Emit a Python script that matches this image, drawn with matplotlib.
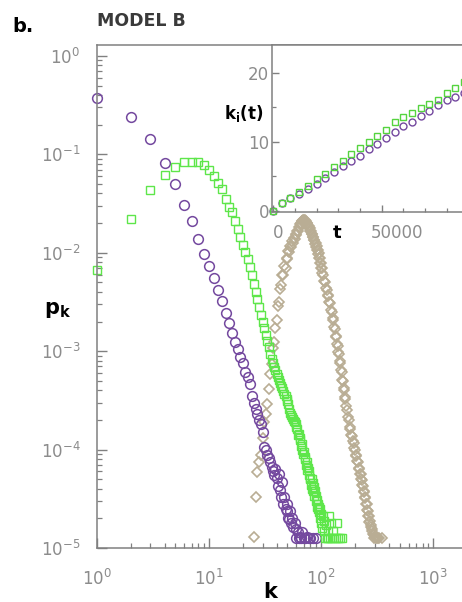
import matplotlib
matplotlib.use("Agg")
import matplotlib.pyplot as plt
from matplotlib.ticker import FixedLocator, LogLocator, NullFormatter

plt.rcParams.update({"font.family": "DejaVu Sans", "mathtext.default": "regular"})

# degree distribution p_k, three snapshots of model B
purple_k = [1, 2, 3, 4, 5, 6, 7, 8, 9, 10, 11, 12, 13, 14, 15, 16, 17, 18, 19, 20,
            21, 22, 23, 24, 25, 26, 27, 28, 29, 30, 31, 32, 33, 34, 35, 36, 37, 38, 39, 40,
            41, 42, 43, 44, 45, 46, 47, 48, 49, 50, 51, 52, 53, 54, 55, 56, 58, 59, 60, 62,
            63, 65, 66, 68, 70, 72, 75, 78, 80, 85, 90]
purple_p = [0.375, 0.24, 0.144, 0.082, 0.050, 0.0307, 0.0211, 0.0139, 0.0096, 0.0073,
            0.0055, 0.0042, 0.0032, 0.00246, 0.00195, 0.00154, 0.00125, 0.00104, 8.8e-4, 7.6e-4,
            6.2e-4, 5.4e-4, 4.6e-4, 3.5e-4, 3.0e-4, 2.6e-4, 2.3e-4, 2.0e-4, 1.8e-4, 1.5e-4,
            1.05e-4, 1.0e-4, 8.9e-5, 8.3e-5, 7.4e-5, 6.6e-5, 6.0e-5, 5.5e-5, 6.3e-5, 5.2e-5,
            4.3e-5, 5.6e-5, 3.9e-5, 3.3e-5, 4.7e-5, 2.8e-5, 3.3e-5, 2.5e-5, 2.35e-5, 2.8e-5,
            2.0e-5, 1.95e-5, 2.35e-5, 1.8e-5, 2.0e-5, 1.65e-5, 1.8e-5, 1.55e-5, 1.25e-5, 1.44e-5,
            1.25e-5, 1.3e-5, 1.25e-5, 1.44e-5, 1.25e-5, 1.25e-5, 1.3e-5, 1.25e-5, 1.25e-5, 1.25e-5,
            1.25e-5]

green_k = [1, 2, 3, 4, 5, 6, 7, 8, 9, 10, 11, 12, 13, 14, 15, 16, 17, 18, 19, 20,
           21, 22, 23, 24, 25, 26, 27, 28, 29, 30, 31, 32, 33, 34, 35, 36, 37, 38, 39, 40,
           41, 42, 43, 44, 45, 46, 47, 48, 49, 50, 51, 52, 53, 54, 55, 56, 57, 58, 59, 60,
           61, 62, 63, 64, 65, 66, 67, 68, 69, 70, 71, 72, 73, 74, 75, 76, 77, 78, 79, 80,
           81, 82, 83, 84, 85, 86, 87, 88, 89, 90, 91, 92, 93, 94, 95, 96, 97, 98, 99, 100,
           102, 103, 105, 106, 108, 110, 112, 114, 116, 118, 120, 122, 125, 128, 131, 135, 139, 142, 148, 154]
green_p = [0.0067, 0.022, 0.043, 0.062, 0.075, 0.084, 0.084, 0.083, 0.078, 0.0697,
           0.0605, 0.0514, 0.0441, 0.0353, 0.0293, 0.0261, 0.0211, 0.0175, 0.0145, 0.0121,
           0.0102, 0.0086, 7.2e-3, 5.9e-3, 4.8e-3, 4.0e-3, 3.35e-3, 2.8e-3, 2.35e-3, 2.0e-3,
           1.7e-3, 1.46e-3, 1.26e-3, 1.09e-3, 9.4e-4, 8.4e-4, 7.6e-4, 6.97e-4, 6.41e-4, 5.91e-4,
           5.51e-4, 5.14e-4, 4.79e-4, 4.47e-4, 4.26e-4, 3.97e-4, 3.7e-4, 3.53e-4, 3.3e-4, 3.14e-4,
           2.93e-4, 2.61e-4, 2.38e-4, 2.27e-4, 2.16e-4, 2.06e-4, 1.97e-4, 1.92e-4, 1.84e-4, 1.71e-4,
           1.6e-4, 1.4e-4, 1.45e-4, 1.25e-4, 1.3e-4, 1.1e-4, 1.15e-4, 1.0e-4, 9.0e-5, 9.5e-5,
           8.0e-5, 8.5e-5, 7.0e-5, 7.5e-5, 6.2e-5, 6.5e-5, 5.5e-5, 6.0e-5, 5.0e-5, 5.2e-5,
           4.4e-5, 5.0e-5, 4.0e-5, 4.6e-5, 3.8e-5, 4.2e-5, 3.4e-5, 3.8e-5, 3.0e-5, 3.4e-5,
           2.6e-5, 3.1e-5, 2.5e-5, 2.8e-5, 2.3e-5, 2.6e-5, 2.0e-5, 2.5e-5, 1.8e-5, 2.2e-5,
           1.6e-5, 2.1e-5, 1.5e-5, 1.9e-5, 1.25e-5, 1.7e-5, 1.25e-5, 1.5e-5, 1.25e-5, 2.1e-5,
           1.25e-5, 1.8e-5, 1.25e-5, 1.5e-5, 1.25e-5, 1.25e-5, 1.8e-5, 1.25e-5, 1.25e-5, 1.25e-5]

tan_k = [25, 26, 27, 28, 29, 30, 31, 32, 33, 34, 35, 36, 37, 38, 39, 40, 41, 42, 43, 44,
         45, 46, 47, 48, 49, 50, 51, 52, 53, 54, 55, 56, 57, 58, 59, 60, 61, 62, 63, 64,
         65, 66, 67, 68, 69, 70, 71, 72, 73, 74, 75, 76, 77, 78, 79, 80, 81, 82, 83, 84,
         85, 86, 87, 88, 89, 90, 91, 92, 93, 94, 95, 96, 97, 98, 99, 100, 101, 102, 104, 106,
         108, 110, 112, 114, 116, 118, 120, 122, 124, 126, 128, 130, 132, 134, 136, 138, 140, 142, 144, 146,
         148, 150, 152, 154, 156, 158, 160, 162, 164, 167, 170, 173, 176, 179, 182, 185, 188, 191, 194, 197,
         200, 203, 206, 209, 212, 215, 218, 221, 224, 227, 230, 233, 236, 239, 242, 245, 248, 251, 254, 257,
         260, 263, 266, 269, 272, 275, 278, 281, 285, 289, 293, 297, 301, 306, 312, 320, 330, 345]
tan_p = [1.3e-5, 3.3e-5, 5.9e-5, 7.4e-5, 8.9e-5, 1.3e-4, 1.9e-4, 2.3e-4, 2.9e-4, 4.1e-4,
         5.8e-4, 7.4e-4, 1.08e-3, 1.24e-3, 1.72e-3, 2.08e-3, 2.9e-3, 3.15e-3, 4.3e-3, 4.7e-3,
         5.9e-3, 5.9e-3, 7.3e-3, 7.0e-3, 8.8e-3, 8.7e-3, 1.05e-2, 1.02e-2, 1.17e-2, 1.14e-2,
         1.31e-2, 1.27e-2, 1.42e-2, 1.37e-2, 1.54e-2, 1.51e-2, 1.68e-2, 1.66e-2, 1.84e-2, 1.83e-2,
         1.98e-2, 2.0e-2, 2.08e-2, 2.1e-2, 2.16e-2, 2.13e-2, 2.14e-2, 2.07e-2, 2.08e-2, 1.99e-2,
         1.99e-2, 1.89e-2, 1.89e-2, 1.77e-2, 1.77e-2, 1.66e-2, 1.66e-2, 1.55e-2, 1.56e-2, 1.45e-2,
         1.46e-2, 1.35e-2, 1.35e-2, 1.24e-2, 1.25e-2, 1.14e-2, 1.16e-2, 1.06e-2, 1.07e-2, 9.8e-3,
         9.9e-3, 8.9e-3, 8.8e-3, 7.9e-3, 7.8e-3, 7.0e-3, 7.0e-3, 6.2e-3, 6.0e-3, 5.2e-3,
         5.0e-3, 4.4e-3, 4.2e-3, 3.7e-3, 3.6e-3, 3.15e-3, 3.05e-3, 2.6e-3, 2.5e-3, 2.15e-3,
         2.05e-3, 1.75e-3, 1.68e-3, 1.44e-3, 1.38e-3, 1.18e-3, 1.14e-3, 9.7e-4, 9.3e-4, 7.9e-4,
         7.5e-4, 6.4e-4, 6.1e-4, 5.1e-4, 4.95e-4, 4.2e-4, 4.0e-4, 3.4e-4, 3.3e-4, 2.8e-4,
         2.55e-4, 2.15e-4, 2.0e-4, 1.68e-4, 1.6e-4, 1.42e-4, 1.38e-4, 1.22e-4, 1.18e-4, 1.04e-4,
         1.0e-4, 8.8e-5, 8.6e-5, 7.6e-5, 7.4e-5, 6.5e-5, 6.4e-5, 5.7e-5, 5.6e-5, 5.0e-5,
         4.9e-5, 4.4e-5, 4.3e-5, 3.8e-5, 3.7e-5, 3.3e-5, 3.2e-5, 2.8e-5, 2.8e-5, 2.45e-5,
         2.4e-5, 2.1e-5, 2.1e-5, 1.85e-5, 1.9e-5, 1.65e-5, 1.7e-5, 1.5e-5, 1.55e-5, 1.4e-5,
         1.35e-5, 1.25e-5, 1.3e-5, 1.25e-5, 1.25e-5, 1.25e-5, 1.25e-5, 1.25e-5]

# inset: degree of one node versus time
t_vals = [0, 4000, 8000, 12000, 16000, 20000, 24000, 28000, 32000, 36000, 40000, 44000,
          48000, 52000, 56000, 60000, 64000, 68000, 72000, 76000, 80000, 84000, 88000]
ki_purple = [0, 1.1, 1.9, 2.4, 3.2, 3.9, 4.7, 5.6, 6.5, 7.2, 7.9, 8.9,
             9.6, 10.5, 11.4, 12.2, 12.9, 13.7, 14.5, 15.3, 16.0, 16.5, 17.1]
ki_green = [0, 1.15, 1.9, 2.7, 3.6, 4.6, 5.3, 6.3, 7.2, 8.2, 9.1, 9.9,
            10.8, 11.7, 12.8, 13.5, 14.1, 14.8, 15.4, 16.0, 17.0, 17.7, 18.6]

PURPLE = "#74499f"
GREEN = "#5ee64a"
TAN = "#b9ad94"
SPINE = "#808080"
TICKTXT = "#8c8c8c"

W, H = 462, 602
fig = plt.figure(figsize=(W / 100, H / 100), dpi=100)

ax = fig.add_axes([97 / W, 1 - 548 / H, 1 - 97 / W, (548 - 45) / H])
ax.set_xscale("log")
ax.set_yscale("log")
ax.plot(tan_k, tan_p, ls="none", marker="D", ms=4.8, mfc="none", mec=TAN, mew=1.2, clip_on=False)
ax.plot(purple_k, purple_p, ls="none", marker="o", ms=7, mfc="none", mec=PURPLE, mew=1.1, clip_on=False)
ax.plot(green_k, green_p, ls="none", marker="s", ms=6, mfc="none", mec=GREEN, mew=1.0, clip_on=False)
ax.set_xlim(1, 1800)
ax.set_ylim(1e-5, 1.29)
ax.xaxis.set_major_locator(LogLocator(base=10, numticks=10))
ax.yaxis.set_major_locator(LogLocator(base=10, numticks=10))
for a in (ax.xaxis, ax.yaxis):
    a.set_minor_locator(LogLocator(base=10, subs=range(2, 10), numticks=20))
    a.set_minor_formatter(NullFormatter())
ax.tick_params(which="both", direction="in", colors=SPINE, labelcolor=TICKTXT, labelsize=12)
ax.tick_params(which="major", length=7, width=1)
ax.tick_params(which="minor", length=3.5, width=0.9)
ax.tick_params(axis="x", pad=15)
ax.tick_params(axis="y", pad=12)
for s in ("left", "bottom", "top"):
    ax.spines[s].set_color(SPINE)
    ax.spines[s].set_linewidth(1.1)
ax.spines["right"].set_visible(False)

# inset
ins = fig.add_axes([272 / W, 1 - 212 / H, 1 - 272 / W, (212 - 45) / H])
ins.plot(t_vals, ki_purple, ls="none", marker="o", ms=5, mfc="none", mec=PURPLE, mew=1.0, clip_on=False)
ins.plot(t_vals, ki_green, ls="none", marker="s", ms=4.6, mfc="none", mec="#55d43f", mew=1.0, clip_on=False)
ins.set_xlim(-500, 87000)
ins.set_ylim(-0.2, 24)
ins.xaxis.set_major_locator(FixedLocator([0, 50000]))
ins.xaxis.set_minor_locator(FixedLocator([10000, 20000, 30000, 40000, 60000, 70000, 80000]))
ins.yaxis.set_major_locator(FixedLocator([0, 10, 20]))
ins.yaxis.set_minor_locator(FixedLocator([5, 15]))
ins.tick_params(which="both", direction="in", colors=SPINE, labelcolor=TICKTXT, labelsize=12)
ins.tick_params(which="major", length=5, width=1)
ins.tick_params(which="minor", length=3, width=0.9)
ins.tick_params(axis="x", labelbottom=False)
ins.tick_params(axis="y", pad=2)
for s in ("left", "bottom", "top"):
    ins.spines[s].set_color(SPINE)
    ins.spines[s].set_linewidth(1.1)
ins.spines["right"].set_visible(False)

fig.text(278 / W, 1 - 233 / H, "0", color=TICKTXT, fontsize=12, ha="center", va="center")
fig.text(397 / W, 1 - 233 / H, "50000", color=TICKTXT, fontsize=12, ha="center", va="center")
fig.text(337 / W, 1 - 233 / H, "t", fontsize=13, weight="bold", ha="center", va="center")
fig.text(244 / W, 1 - 113 / H, r"$\mathbf{k}_\mathbf{i}\mathbf{(t)}$", fontsize=12,
         ha="center", va="center")

fig.text(12 / W, 1 - 27 / H, "b.", fontsize=14, weight="bold", ha="left", va="center")
fig.text(97 / W, 1 - 21 / H, "MODEL B", fontsize=12.5, weight="bold", color="#3a3a3a",
         ha="left", va="center")
fig.text(270 / W, 1 - 592 / H, "k", fontsize=15, weight="bold", ha="center", va="center")
fig.text(58 / W, 1 - 310 / H, r"$\mathbf{p}_\mathbf{k}$", fontsize=15, ha="center", va="center")

fig.savefig("out.png", dpi=100)
